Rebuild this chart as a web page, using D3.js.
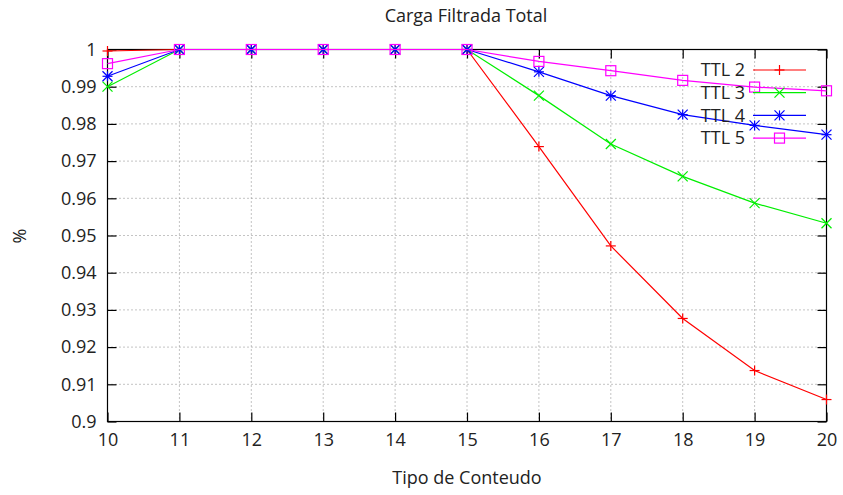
<!DOCTYPE html>
<html>
<head>
<meta charset="utf-8">
<script src="https://cdn.jsdelivr.net/npm/d3@7"></script>
<style>
  html, body { margin: 0; padding: 0; background: #fff; }
  svg text { font-family: "Open Sans", "DejaVu Sans", sans-serif; fill: #222; }
</style>
</head>
<body>
<svg id="chart" width="843" height="495"></svg>
<script>
// Content types on the x axis
const tipos = [10, 11, 12, 13, 14, 15, 16, 17, 18, 19, 20];

// Fraction of total filtered load per TTL
const ttl2 = [0.9996, 1, 1, 1, 1, 1, 0.9739, 0.9472, 0.9277, 0.9137, 0.9059];
const ttl3 = [0.9900, 1, 1, 1, 1, 1, 0.9876, 0.9746, 0.9659, 0.9587, 0.9533];
const ttl4 = [0.9928, 1, 1, 1, 1, 1, 0.9940, 0.9876, 0.9825, 0.9796, 0.9771];
const ttl5 = [0.9962, 1, 1, 1, 1, 1, 0.9968, 0.9943, 0.9917, 0.9899, 0.9889];

const seriesNames = ["TTL 2", "TTL 3", "TTL 4", "TTL 5"];
const yTicks = [0.9, 0.91, 0.92, 0.93, 0.94, 0.95, 0.96, 0.97, 0.98, 0.99, 1];
const yTickLabels = ["0.9", "0.91", "0.92", "0.93", "0.94", "0.95", "0.96", "0.97", "0.98", "0.99", "1"];

const series = [
  { name: seriesNames[0], values: ttl2, color: "#ff0000", marker: "plus" },
  { name: seriesNames[1], values: ttl3, color: "#00ee00", marker: "cross" },
  { name: seriesNames[2], values: ttl4, color: "#0000ff", marker: "star" },
  { name: seriesNames[3], values: ttl5, color: "#ff00ff", marker: "box" }
];

const svg = d3.select("#chart");
const m = { left: 107.5, right: 826.5, top: 49.5, bottom: 421.5 };

const x = d3.scaleLinear().domain([10, 20]).range([m.left, m.right]);
const y = d3.scaleLinear().domain([0.9, 1]).range([m.bottom, m.top]);

// Dotted grid
const grid = svg.append("g");
grid.selectAll("line.gx").data(tipos.slice(1, -1)).join("line")
  .attr("x1", d => x(d)).attr("x2", d => x(d))
  .attr("y1", m.top).attr("y2", m.bottom)
  .attr("stroke", "#888").attr("stroke-width", 1).attr("stroke-dasharray", "1,3");
grid.selectAll("line.gy").data(yTicks.slice(1, -1)).join("line")
  .attr("x1", m.left).attr("x2", m.right)
  .attr("y1", d => y(d)).attr("y2", d => y(d))
  .attr("stroke", "#888").attr("stroke-width", 1).attr("stroke-dasharray", "1,3");

// Axes: ticks point inward, mirrored on the opposite side
const tl = 9;
const fontSize = 18;
const xAxis = d3.axisBottom(x).tickValues(tipos).tickFormat(d3.format("d")).tickSizeInner(-tl).tickSizeOuter(0).tickPadding(12);
const xAxisTop = d3.axisTop(x).tickValues(tipos).tickFormat("").tickSizeInner(-tl).tickSizeOuter(0);
const yAxis = d3.axisLeft(y).tickValues(yTicks).tickFormat((d, i) => yTickLabels[i]).tickSizeInner(-tl).tickSizeOuter(0).tickPadding(11);
const yAxisRight = d3.axisRight(y).tickValues(yTicks).tickFormat("").tickSizeInner(-tl).tickSizeOuter(0);

function styleAxis(g) {
  g.selectAll("path").remove();
  g.selectAll("line").attr("stroke", "#000").attr("stroke-width", 1.2);
  g.selectAll("text").attr("font-size", fontSize).attr("fill", "#222")
    .style("font-family", "'Open Sans', 'DejaVu Sans', sans-serif");
}
svg.append("g").attr("transform", `translate(0,${m.bottom})`).call(xAxis).call(styleAxis);
svg.append("g").attr("transform", `translate(0,${m.top})`).call(xAxisTop).call(styleAxis);
svg.append("g").attr("transform", `translate(${m.left},0)`).call(yAxis).call(styleAxis);
svg.append("g").attr("transform", `translate(${m.right},0)`).call(yAxisRight).call(styleAxis);

// Plot frame
svg.append("rect")
  .attr("x", m.left).attr("y", m.top)
  .attr("width", m.right - m.left).attr("height", m.bottom - m.top)
  .attr("fill", "none").attr("stroke", "#000").attr("stroke-width", 1.2);

// Point markers in gnuplot style
function drawMarker(g, type, cx, cy, color) {
  const s = 5;
  const line = (x1, y1, x2, y2) => g.append("line")
    .attr("x1", x1).attr("y1", y1).attr("x2", x2).attr("y2", y2)
    .attr("stroke", color).attr("stroke-width", 1.2);
  if (type === "plus" || type === "star") {
    line(cx - s, cy, cx + s, cy);
    line(cx, cy - s, cx, cy + s);
  }
  if (type === "cross" || type === "star") {
    line(cx - s, cy - s, cx + s, cy + s);
    line(cx - s, cy + s, cx + s, cy - s);
  }
  if (type === "box") {
    g.append("rect").attr("x", cx - s).attr("y", cy - s)
      .attr("width", 2 * s).attr("height", 2 * s)
      .attr("fill", "none").attr("stroke", color).attr("stroke-width", 1.2);
  }
}

const lineGen = d3.line().x(d => x(d[0])).y(d => y(d[1]));
const plot = svg.append("g");
series.forEach(s => {
  const pts = tipos.map((t, i) => [t, s.values[i]]);
  plot.append("path").datum(pts)
    .attr("d", lineGen)
    .attr("fill", "none").attr("stroke", s.color).attr("stroke-width", 1.2);
  const mg = plot.append("g");
  pts.forEach(p => drawMarker(mg, s.marker, x(p[0]), y(p[1]), s.color));
});

// Legend
const legend = svg.append("g");
series.forEach((s, i) => {
  const ly = 70 + i * 22.7;
  legend.append("text")
    .attr("x", 745).attr("y", ly).attr("dy", "0.35em")
    .attr("text-anchor", "end").attr("font-size", fontSize)
    .text(s.name);
  legend.append("line")
    .attr("x1", 753).attr("x2", 806).attr("y1", ly).attr("y2", ly)
    .attr("stroke", s.color).attr("stroke-width", 1.2);
  drawMarker(legend, s.marker, 779.5, ly, s.color);
});

// Titles
svg.append("text").attr("x", 466).attr("y", 22)
  .attr("text-anchor", "middle").attr("font-size", fontSize)
  .text("Carga Filtrada Total");
svg.append("text").attr("x", 467).attr("y", 484)
  .attr("text-anchor", "middle").attr("font-size", fontSize)
  .text("Tipo de Conteudo");
svg.append("text")
  .attr("transform", "translate(26,236) rotate(-90)")
  .attr("text-anchor", "middle").attr("font-size", fontSize)
  .text("%");
</script>
</body>
</html>
